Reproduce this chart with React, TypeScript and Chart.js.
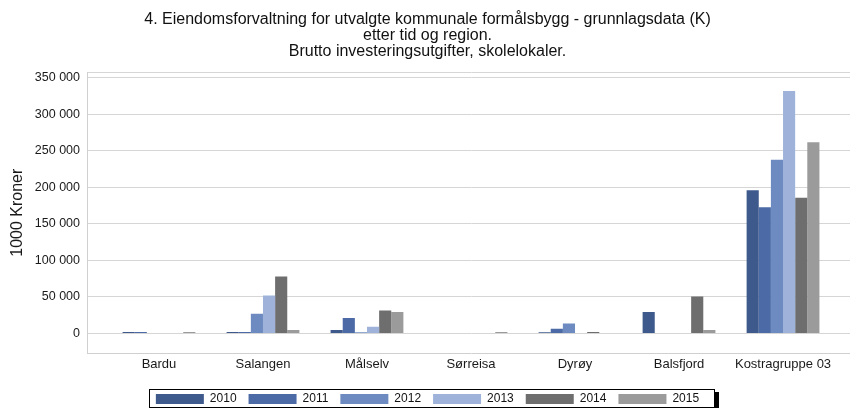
import React, { useEffect, useRef } from 'react';
import { Chart, registerables } from 'chart.js';

Chart.register(...registerables);

const categories = ['Bardu', 'Salangen', 'Målselv', 'Sørreisa', 'Dyrøy', 'Balsfjord', 'Kostragruppe 03'];
const years = ['2010', '2011', '2012', '2013', '2014', '2015'];

const v2010 = [2000, 2000, 4500, 0, 1500, 29500, 196000];
const v2011 = [2000, 2000, 21000, 0, 6500, 0, 173000];
const v2012 = [0, 27000, 1500, 0, 13500, 0, 238000];
const v2013 = [0, 52000, 9000, 0, 0, 0, 332000];
const v2014 = [0, 78000, 31500, 0, 2000, 50500, 186000];
const v2015 = [2000, 4500, 29500, 2000, 0, 4500, 262000];
const seriesValues = [v2010, v2011, v2012, v2013, v2014, v2015];

const colors = ['#3e5a8c', '#4b6aa6', '#6d8bc0', '#9fb3da', '#6e6e6e', '#9b9b9b'];

const yTickValues = [0, 50000, 100000, 150000, 200000, 250000, 300000, 350000];
const yMin = -27400;
const yMax = 358200;

const titleLines = [
  '4. Eiendomsforvaltning for utvalgte kommunale formålsbygg - grunnlagsdata (K)',
  'etter tid og region.',
  'Brutto investeringsutgifter, skolelokaler.',
];
const yTitle = '1000 Kroner';

const FONT = '"Liberation Sans", Arial, sans-serif';

const fmt = (v: number) => String(v).replace(/\B(?=(\d{3})+(?!\d))/g, ' ');

const legendFrame = {
  id: 'legendFrame',
  beforeDraw(chart: any) {
    const lg = chart.legend;
    if (!lg || !lg.legendHitBoxes || !lg.legendHitBoxes.length) return;
    const hb = lg.legendHitBoxes;
    const l = Math.round(Math.min(...hb.map((h: any) => h.left)) - 7);
    const r = Math.round(Math.max(...hb.map((h: any) => h.left + h.width)) + 16);
    const t = Math.round(Math.min(...hb.map((h: any) => h.top)) - 4);
    const b = Math.round(Math.max(...hb.map((h: any) => h.top + h.height)) + 3);
    const ctx = chart.ctx;
    ctx.save();
    ctx.fillStyle = '#000';
    ctx.fillRect(l + 4, t + 3, r - l, b - t);
    ctx.fillStyle = '#fff';
    ctx.fillRect(l, t, r - l, b - t);
    ctx.strokeStyle = '#000';
    ctx.lineWidth = 1;
    ctx.strokeRect(l + 0.5, t + 0.5, r - l - 1, b - t - 1);
    ctx.restore();
  },
};

export default function App() {
  const ref = useRef<HTMLCanvasElement>(null);

  useEffect(() => {
    if (!ref.current) return;
    const chart = new Chart(ref.current, {
      type: 'bar',
      data: {
        datasets: years.map((y, i) => ({
          label: y,
          data: seriesValues[i].map((v, j) => ({ x: j, y: v })),
          backgroundColor: colors[i],
          borderWidth: 0,
          categoryPercentage: 0.7,
          barPercentage: 1,
        })),
      },
      options: {
        animation: false,
        responsive: false,
        devicePixelRatio: 1,
        layout: { padding: { left: 0, right: 13, top: 0, bottom: 0 } },
        plugins: {
          title: {
            display: true,
            text: titleLines,
            font: { family: FONT, size: 16, weight: 'normal', lineHeight: 1.0 },
            color: '#111',
            padding: { top: 12, bottom: 12 },
          },
          legend: {
            position: 'bottom',
            labels: {
              boxWidth: 48,
              boxHeight: 10,
              padding: 12,
              font: { family: FONT, size: 12 },
              color: '#111',
            },
          },
          tooltip: { enabled: false },
        },
        scales: {
          x: {
            type: 'linear',
            min: -0.692,
            max: 6.692,
            offset: false,
            grid: { display: false, drawTicks: false },
            border: { display: true, color: '#d0d0d0' },
            afterBuildTicks: (s: any) => {
              s.ticks = categories.map((_, i) => ({ value: i }));
            },
            afterFit: (s: any) => {
              s.height = 27.6;
            },
            ticks: {
              callback: (v: any) => categories[Math.round(Number(v))] ?? '',
              autoSkip: false,
              maxRotation: 0,
              padding: 3,
              font: { family: FONT, size: 13 },
              color: '#1a1a1a',
            },
          },
          y: {
            min: yMin,
            max: yMax,
            afterBuildTicks: (s: any) => {
              s.ticks = [...yTickValues, yMax].map((v) => ({ value: v }));
            },
            afterFit: (s: any) => {
              s.width = 87;
            },
            ticks: {
              callback: (v: any) => (Number(v) > 350000 ? '' : fmt(Number(v))),
              padding: 7,
              font: { family: FONT, size: 12.5 },
              color: '#1a1a1a',
            },
            grid: { color: '#d6d6d6', drawTicks: false },
            border: { display: true, color: '#d0d0d0' },
            title: {
              display: true,
              text: yTitle,
              font: { family: FONT, size: 16 },
              color: '#1a1a1a',
              padding: { top: 8, bottom: 0 },
            },
          },
        },
      },
      plugins: [legendFrame],
    } as any);
    return () => chart.destroy();
  }, []);

  return (
    <div
      style={{
        position: 'absolute',
        left: 0,
        top: 0,
        width: 850,
        height: 408,
        overflow: 'hidden',
        background: '#fff',
      }}
    >
      <canvas ref={ref} width={868} height={415} style={{ display: 'block', width: 868, height: 415 }} />
    </div>
  );
}
